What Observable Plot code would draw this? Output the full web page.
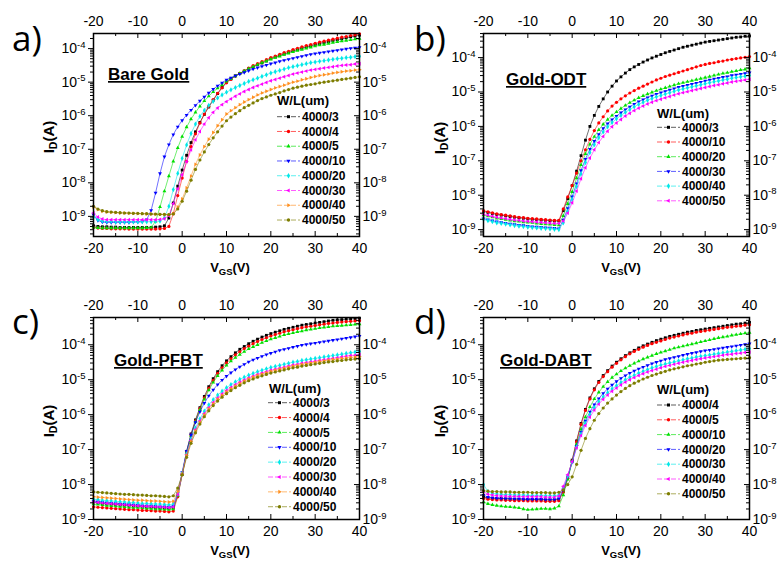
<!DOCTYPE html>
<html><head><meta charset="utf-8">
<script src="https://cdn.jsdelivr.net/npm/d3@7"></script>
<script src="https://cdn.jsdelivr.net/npm/@observablehq/plot@0.6"></script>
<style>
html,body{margin:0;padding:0;background:#fff}
#root{position:relative;width:778px;height:562px;overflow:hidden;background:#fff}
</style></head><body><div id="root"></div>
<script>
// ---------------- DATA (log10 of drain current I_D in A) ----------------
const vgs = [-20,-19,-18,-17,-16,-15,-14,-13,-12,-11,-10,-9,-8,-7,-6,-5,-4,-3,-2,-1,0,1,2,3,4,5,6,7,8,9,10,11,12,13,14,15,16,17,18,19,20,21,22,23,24,25,26,27,28,29,30,31,32,33,34,35,36,37,38,39,40];
const xTickLabels = [-20,-10,0,10,20,30,40];
const yTickExponents = [-9,-8,-7,-6,-5,-4];

// a) Bare Gold
const wlBare = ["4000/3","4000/4","4000/5","4000/10","4000/20","4000/30","4000/40","4000/50"];
const logIdBare = [
[-9.28,-9.30,-9.31,-9.31,-9.32,-9.32,-9.33,-9.33,-9.33,-9.33,-9.33,-9.33,-9.33,-9.33,-9.32,-9.31,-9.28,-9.05,-8.6,-8.1,-7.62,-7.18,-6.8,-6.48,-6.2,-5.96,-5.74,-5.54,-5.34,-5.16,-5.0,-4.9,-4.81,-4.74,-4.67,-4.6,-4.54,-4.48,-4.43,-4.37,-4.3,-4.25,-4.21,-4.16,-4.12,-4.07,-4.03,-3.99,-3.95,-3.92,-3.88,-3.85,-3.82,-3.79,-3.76,-3.73,-3.71,-3.68,-3.65,-3.63,-3.6],
[-9.33,-9.35,-9.36,-9.36,-9.37,-9.37,-9.37,-9.37,-9.38,-9.38,-9.38,-9.38,-9.38,-9.38,-9.38,-9.37,-9.36,-9.3,-8.92,-8.38,-7.86,-7.36,-6.92,-6.54,-6.22,-5.95,-5.72,-5.52,-5.33,-5.17,-5.02,-4.92,-4.82,-4.74,-4.66,-4.58,-4.51,-4.45,-4.39,-4.33,-4.27,-4.22,-4.17,-4.12,-4.08,-4.03,-3.99,-3.95,-3.91,-3.88,-3.84,-3.81,-3.78,-3.75,-3.72,-3.69,-3.66,-3.64,-3.61,-3.59,-3.56],
[-9.33,-9.34,-9.35,-9.35,-9.35,-9.35,-9.35,-9.35,-9.35,-9.35,-9.35,-9.35,-9.34,-9.33,-9.15,-8.72,-8.25,-7.8,-7.36,-6.96,-6.62,-6.34,-6.1,-5.9,-5.72,-5.56,-5.42,-5.29,-5.18,-5.08,-4.98,-4.9,-4.82,-4.74,-4.67,-4.6,-4.54,-4.48,-4.42,-4.37,-4.32,-4.27,-4.23,-4.18,-4.14,-4.1,-4.06,-4.03,-3.99,-3.96,-3.93,-3.9,-3.88,-3.85,-3.82,-3.8,-3.78,-3.76,-3.74,-3.72,-3.7],
[-8.95,-9.12,-9.17,-9.18,-9.18,-9.18,-9.18,-9.18,-9.18,-9.17,-9.17,-9.16,-9.1,-8.82,-8.3,-7.72,-7.22,-6.86,-6.56,-6.33,-6.14,-5.98,-5.83,-5.69,-5.56,-5.44,-5.32,-5.21,-5.11,-5.02,-4.93,-4.87,-4.81,-4.76,-4.71,-4.66,-4.61,-4.57,-4.53,-4.49,-4.45,-4.42,-4.38,-4.35,-4.32,-4.29,-4.26,-4.23,-4.2,-4.17,-4.15,-4.13,-4.11,-4.09,-4.07,-4.05,-4.03,-4.01,-3.99,-3.98,-3.96],
[-9.02,-9.1,-9.14,-9.15,-9.15,-9.16,-9.16,-9.16,-9.16,-9.16,-9.16,-9.16,-9.16,-9.16,-9.15,-9.14,-9.05,-8.7,-8.2,-7.72,-7.27,-6.87,-6.53,-6.25,-6.02,-5.84,-5.69,-5.57,-5.47,-5.38,-5.3,-5.23,-5.16,-5.1,-5.04,-4.98,-4.93,-4.88,-4.83,-4.78,-4.73,-4.69,-4.65,-4.61,-4.57,-4.54,-4.51,-4.48,-4.45,-4.42,-4.4,-4.38,-4.36,-4.34,-4.32,-4.3,-4.29,-4.27,-4.26,-4.24,-4.23],
[-8.9,-9.02,-9.08,-9.1,-9.1,-9.1,-9.1,-9.1,-9.1,-9.1,-9.1,-9.1,-9.1,-9.1,-9.1,-9.09,-9.07,-8.98,-8.62,-8.18,-7.76,-7.37,-7.02,-6.72,-6.47,-6.25,-6.06,-5.9,-5.77,-5.67,-5.58,-5.5,-5.42,-5.35,-5.28,-5.22,-5.16,-5.11,-5.06,-5.01,-4.96,-4.92,-4.88,-4.84,-4.8,-4.76,-4.73,-4.7,-4.67,-4.64,-4.62,-4.6,-4.58,-4.56,-4.54,-4.52,-4.5,-4.49,-4.48,-4.46,-4.45],
[-8.72,-8.8,-8.85,-8.87,-8.88,-8.89,-8.9,-8.9,-8.91,-8.91,-8.92,-8.92,-8.93,-8.93,-8.94,-8.94,-8.95,-8.95,-8.92,-8.72,-8.48,-8.15,-7.8,-7.45,-7.17,-6.92,-6.7,-6.5,-6.3,-6.12,-5.95,-5.85,-5.76,-5.67,-5.59,-5.52,-5.45,-5.38,-5.32,-5.27,-5.22,-5.17,-5.13,-5.09,-5.04,-5.0,-4.97,-4.93,-4.9,-4.86,-4.83,-4.8,-4.78,-4.76,-4.73,-4.71,-4.69,-4.67,-4.66,-4.64,-4.63],
[-8.7,-8.78,-8.83,-8.86,-8.87,-8.88,-8.89,-8.9,-8.9,-8.91,-8.91,-8.92,-8.92,-8.93,-8.93,-8.94,-8.94,-8.95,-8.93,-8.78,-8.55,-8.25,-7.92,-7.6,-7.32,-7.08,-6.86,-6.66,-6.48,-6.31,-6.15,-6.04,-5.94,-5.85,-5.76,-5.69,-5.62,-5.55,-5.49,-5.44,-5.39,-5.35,-5.31,-5.26,-5.22,-5.18,-5.15,-5.12,-5.09,-5.07,-5.05,-5.02,-5.0,-4.98,-4.96,-4.94,-4.92,-4.9,-4.88,-4.86,-4.84]
];

// b) Gold-ODT
const wlOdt = ["4000/3","4000/10","4000/20","4000/30","4000/40","4000/50"];
const logIdOdt = [
[-8.47,-8.5,-8.53,-8.56,-8.58,-8.6,-8.62,-8.64,-8.66,-8.67,-8.69,-8.7,-8.71,-8.72,-8.73,-8.74,-8.75,-8.75,-8.45,-8.1,-7.72,-7.3,-6.85,-6.4,-6.0,-5.68,-5.42,-5.2,-5.0,-4.83,-4.68,-4.56,-4.45,-4.35,-4.27,-4.2,-4.13,-4.07,-4.01,-3.96,-3.91,-3.86,-3.82,-3.78,-3.74,-3.7,-3.67,-3.64,-3.61,-3.58,-3.55,-3.53,-3.51,-3.49,-3.47,-3.45,-3.43,-3.41,-3.4,-3.38,-3.37],
[-8.45,-8.48,-8.51,-8.54,-8.56,-8.58,-8.6,-8.62,-8.64,-8.65,-8.67,-8.68,-8.69,-8.7,-8.71,-8.72,-8.73,-8.73,-8.4,-8.05,-7.72,-7.36,-7.0,-6.68,-6.38,-6.12,-5.9,-5.72,-5.55,-5.41,-5.3,-5.2,-5.11,-5.03,-4.96,-4.89,-4.83,-4.77,-4.71,-4.65,-4.6,-4.55,-4.51,-4.47,-4.43,-4.39,-4.35,-4.31,-4.27,-4.23,-4.2,-4.17,-4.15,-4.12,-4.1,-4.07,-4.05,-4.03,-4.01,-3.99,-3.97],
[-8.58,-8.61,-8.64,-8.67,-8.69,-8.71,-8.73,-8.75,-8.76,-8.78,-8.79,-8.8,-8.82,-8.83,-8.84,-8.85,-8.86,-8.87,-8.6,-8.25,-7.9,-7.5,-7.12,-6.8,-6.52,-6.3,-6.1,-5.94,-5.8,-5.68,-5.58,-5.48,-5.39,-5.31,-5.24,-5.17,-5.11,-5.06,-5.01,-4.96,-4.92,-4.88,-4.84,-4.8,-4.76,-4.73,-4.7,-4.67,-4.64,-4.61,-4.58,-4.55,-4.52,-4.49,-4.46,-4.44,-4.41,-4.39,-4.36,-4.34,-4.31],
[-8.68,-8.71,-8.74,-8.77,-8.79,-8.81,-8.83,-8.85,-8.87,-8.88,-8.9,-8.91,-8.92,-8.93,-8.94,-8.95,-8.96,-8.97,-8.72,-8.38,-8.04,-7.66,-7.28,-6.95,-6.66,-6.43,-6.23,-6.06,-5.92,-5.8,-5.7,-5.6,-5.51,-5.43,-5.35,-5.28,-5.22,-5.16,-5.11,-5.06,-5.02,-4.98,-4.94,-4.9,-4.86,-4.83,-4.8,-4.77,-4.74,-4.71,-4.68,-4.65,-4.62,-4.6,-4.57,-4.55,-4.52,-4.5,-4.48,-4.46,-4.44],
[-8.7,-8.74,-8.77,-8.8,-8.82,-8.84,-8.86,-8.88,-8.9,-8.91,-8.93,-8.94,-8.95,-8.96,-8.97,-8.98,-8.99,-9.0,-8.8,-8.47,-8.12,-7.75,-7.38,-7.05,-6.76,-6.53,-6.33,-6.16,-6.01,-5.89,-5.78,-5.68,-5.59,-5.51,-5.43,-5.36,-5.3,-5.24,-5.19,-5.14,-5.1,-5.06,-5.02,-4.98,-4.94,-4.91,-4.88,-4.85,-4.82,-4.79,-4.76,-4.73,-4.7,-4.68,-4.65,-4.63,-4.6,-4.58,-4.56,-4.54,-4.52],
[-8.55,-8.58,-8.61,-8.64,-8.66,-8.68,-8.7,-8.72,-8.73,-8.75,-8.76,-8.77,-8.78,-8.79,-8.8,-8.81,-8.82,-8.82,-8.75,-8.52,-8.22,-7.88,-7.52,-7.2,-6.92,-6.68,-6.47,-6.29,-6.14,-6.01,-5.9,-5.8,-5.7,-5.62,-5.54,-5.47,-5.41,-5.35,-5.3,-5.25,-5.21,-5.17,-5.13,-5.09,-5.05,-5.02,-4.99,-4.96,-4.93,-4.9,-4.87,-4.84,-4.81,-4.79,-4.76,-4.74,-4.71,-4.69,-4.67,-4.65,-4.63]
];

// c) Gold-PFBT
const wlPfbt = ["4000/3","4000/4","4000/5","4000/10","4000/20","4000/30","4000/40","4000/50"];
const logIdPfbt = [
[-8.5,-8.52,-8.54,-8.55,-8.56,-8.57,-8.58,-8.59,-8.6,-8.61,-8.62,-8.63,-8.64,-8.65,-8.66,-8.67,-8.67,-8.68,-8.66,-8.3,-7.7,-7.05,-6.55,-6.15,-5.8,-5.48,-5.2,-4.97,-4.77,-4.6,-4.46,-4.34,-4.23,-4.13,-4.05,-3.97,-3.9,-3.84,-3.78,-3.73,-3.68,-3.64,-3.6,-3.56,-3.53,-3.5,-3.47,-3.44,-3.42,-3.4,-3.38,-3.36,-3.34,-3.32,-3.3,-3.29,-3.28,-3.27,-3.26,-3.25,-3.24],
[-8.64,-8.65,-8.66,-8.67,-8.68,-8.69,-8.7,-8.71,-8.72,-8.72,-8.73,-8.74,-8.74,-8.75,-8.76,-8.76,-8.77,-8.78,-8.76,-8.35,-7.72,-7.08,-6.58,-6.18,-5.83,-5.52,-5.25,-5.02,-4.82,-4.66,-4.52,-4.4,-4.29,-4.2,-4.11,-4.04,-3.97,-3.91,-3.85,-3.8,-3.75,-3.71,-3.67,-3.63,-3.6,-3.57,-3.54,-3.51,-3.49,-3.47,-3.45,-3.43,-3.41,-3.39,-3.38,-3.36,-3.35,-3.34,-3.33,-3.32,-3.31],
[-8.56,-8.57,-8.58,-8.6,-8.61,-8.62,-8.63,-8.64,-8.65,-8.66,-8.66,-8.67,-8.68,-8.69,-8.7,-8.7,-8.71,-8.72,-8.7,-8.32,-7.72,-7.1,-6.6,-6.2,-5.86,-5.56,-5.3,-5.08,-4.89,-4.73,-4.59,-4.47,-4.37,-4.28,-4.2,-4.12,-4.06,-4.0,-3.94,-3.89,-3.84,-3.8,-3.76,-3.72,-3.69,-3.66,-3.63,-3.61,-3.58,-3.56,-3.54,-3.52,-3.5,-3.49,-3.47,-3.46,-3.45,-3.44,-3.43,-3.42,-3.41],
[-8.47,-8.49,-8.5,-8.52,-8.53,-8.54,-8.55,-8.56,-8.57,-8.58,-8.59,-8.6,-8.61,-8.61,-8.62,-8.63,-8.63,-8.64,-8.62,-8.25,-7.65,-7.05,-6.58,-6.22,-5.92,-5.67,-5.46,-5.29,-5.14,-5.01,-4.9,-4.8,-4.71,-4.63,-4.56,-4.49,-4.43,-4.38,-4.33,-4.28,-4.24,-4.2,-4.16,-4.13,-4.1,-4.07,-4.04,-4.01,-3.99,-3.97,-3.95,-3.93,-3.91,-3.89,-3.87,-3.85,-3.83,-3.81,-3.79,-3.77,-3.75],
[-8.42,-8.43,-8.45,-8.46,-8.47,-8.48,-8.49,-8.5,-8.51,-8.52,-8.53,-8.54,-8.54,-8.55,-8.56,-8.56,-8.57,-8.58,-8.56,-8.25,-7.68,-7.12,-6.7,-6.38,-6.12,-5.9,-5.72,-5.57,-5.44,-5.33,-5.23,-5.14,-5.06,-4.99,-4.93,-4.87,-4.82,-4.77,-4.73,-4.69,-4.65,-4.62,-4.59,-4.56,-4.53,-4.5,-4.48,-4.45,-4.43,-4.41,-4.39,-4.37,-4.35,-4.33,-4.31,-4.29,-4.27,-4.25,-4.23,-4.21,-4.19],
[-8.5,-8.51,-8.53,-8.54,-8.55,-8.56,-8.57,-8.58,-8.59,-8.6,-8.61,-8.62,-8.62,-8.63,-8.64,-8.64,-8.65,-8.66,-8.64,-8.28,-7.7,-7.15,-6.74,-6.43,-6.18,-5.97,-5.8,-5.65,-5.52,-5.41,-5.31,-5.22,-5.14,-5.07,-5.01,-4.95,-4.9,-4.85,-4.81,-4.77,-4.73,-4.7,-4.67,-4.64,-4.61,-4.58,-4.56,-4.53,-4.51,-4.49,-4.47,-4.45,-4.43,-4.41,-4.39,-4.37,-4.35,-4.33,-4.31,-4.3,-4.28],
[-8.35,-8.36,-8.37,-8.38,-8.39,-8.4,-8.41,-8.42,-8.43,-8.44,-8.45,-8.45,-8.46,-8.47,-8.47,-8.48,-8.49,-8.5,-8.48,-8.2,-7.7,-7.17,-6.77,-6.47,-6.22,-6.01,-5.84,-5.69,-5.56,-5.45,-5.35,-5.26,-5.18,-5.11,-5.04,-4.98,-4.93,-4.88,-4.84,-4.8,-4.76,-4.73,-4.7,-4.67,-4.64,-4.61,-4.59,-4.56,-4.54,-4.52,-4.5,-4.48,-4.46,-4.44,-4.42,-4.41,-4.39,-4.38,-4.36,-4.35,-4.34],
[-8.21,-8.22,-8.23,-8.24,-8.25,-8.26,-8.27,-8.28,-8.28,-8.29,-8.3,-8.3,-8.31,-8.32,-8.32,-8.33,-8.34,-8.35,-8.32,-8.1,-7.72,-7.22,-6.82,-6.52,-6.27,-6.06,-5.89,-5.74,-5.61,-5.5,-5.4,-5.31,-5.23,-5.16,-5.09,-5.03,-4.98,-4.93,-4.89,-4.85,-4.81,-4.78,-4.75,-4.72,-4.69,-4.66,-4.64,-4.61,-4.59,-4.57,-4.55,-4.53,-4.51,-4.49,-4.48,-4.46,-4.45,-4.43,-4.42,-4.41,-4.4]
];

// d) Gold-DABT
const wlDabt = ["4000/4","4000/5","4000/10","4000/20","4000/30","4000/40","4000/50"];
const logIdDabt = [
[-8.36,-8.38,-8.39,-8.4,-8.4,-8.41,-8.41,-8.42,-8.42,-8.42,-8.43,-8.43,-8.43,-8.43,-8.44,-8.44,-8.44,-8.42,-8.2,-7.8,-7.3,-6.75,-6.25,-5.85,-5.52,-5.26,-5.05,-4.88,-4.74,-4.61,-4.5,-4.4,-4.31,-4.23,-4.16,-4.09,-4.03,-3.98,-3.93,-3.88,-3.84,-3.8,-3.76,-3.73,-3.7,-3.67,-3.64,-3.62,-3.59,-3.57,-3.55,-3.53,-3.51,-3.49,-3.47,-3.45,-3.43,-3.41,-3.4,-3.38,-3.36],
[-8.4,-8.42,-8.43,-8.44,-8.44,-8.45,-8.45,-8.46,-8.46,-8.46,-8.47,-8.47,-8.47,-8.47,-8.48,-8.48,-8.48,-8.46,-8.22,-7.82,-7.32,-6.78,-6.28,-5.88,-5.55,-5.29,-5.08,-4.91,-4.77,-4.64,-4.53,-4.43,-4.34,-4.26,-4.19,-4.13,-4.07,-4.02,-3.97,-3.93,-3.89,-3.85,-3.81,-3.78,-3.75,-3.72,-3.69,-3.67,-3.64,-3.62,-3.6,-3.58,-3.56,-3.54,-3.52,-3.5,-3.49,-3.47,-3.46,-3.44,-3.43],
[-8.5,-8.55,-8.58,-8.6,-8.62,-8.63,-8.64,-8.65,-8.67,-8.7,-8.72,-8.71,-8.7,-8.69,-8.69,-8.7,-8.68,-8.62,-8.3,-7.85,-7.35,-6.85,-6.42,-6.07,-5.78,-5.55,-5.36,-5.2,-5.06,-4.94,-4.84,-4.75,-4.67,-4.6,-4.53,-4.47,-4.41,-4.36,-4.31,-4.26,-4.22,-4.18,-4.14,-4.1,-4.07,-4.04,-4.01,-3.98,-3.95,-3.92,-3.89,-3.86,-3.83,-3.8,-3.78,-3.76,-3.73,-3.71,-3.69,-3.67,-3.65],
[-8.3,-8.36,-8.38,-8.39,-8.4,-8.4,-8.41,-8.41,-8.41,-8.42,-8.42,-8.42,-8.42,-8.42,-8.43,-8.43,-8.43,-8.4,-8.15,-7.78,-7.35,-6.9,-6.5,-6.18,-5.92,-5.71,-5.54,-5.39,-5.26,-5.15,-5.05,-4.96,-4.88,-4.81,-4.75,-4.69,-4.64,-4.59,-4.54,-4.5,-4.46,-4.42,-4.39,-4.36,-4.33,-4.3,-4.27,-4.24,-4.22,-4.19,-4.17,-4.15,-4.13,-4.11,-4.09,-4.07,-4.05,-4.03,-4.01,-3.99,-3.97],
[-8.0,-8.2,-8.25,-8.27,-8.28,-8.29,-8.29,-8.3,-8.3,-8.3,-8.31,-8.31,-8.31,-8.31,-8.32,-8.32,-8.32,-8.3,-8.1,-7.76,-7.36,-6.93,-6.55,-6.25,-6.0,-5.8,-5.63,-5.49,-5.37,-5.26,-5.17,-5.08,-5.0,-4.93,-4.87,-4.81,-4.76,-4.71,-4.66,-4.62,-4.58,-4.55,-4.52,-4.49,-4.46,-4.43,-4.4,-4.38,-4.35,-4.33,-4.31,-4.29,-4.27,-4.25,-4.23,-4.21,-4.19,-4.17,-4.15,-4.13,-4.11],
[-8.2,-8.28,-8.3,-8.32,-8.33,-8.33,-8.34,-8.34,-8.34,-8.35,-8.35,-8.35,-8.35,-8.35,-8.36,-8.36,-8.36,-8.33,-8.05,-7.72,-7.35,-6.95,-6.6,-6.31,-6.07,-5.87,-5.7,-5.56,-5.44,-5.33,-5.24,-5.15,-5.07,-5.0,-4.94,-4.88,-4.83,-4.78,-4.74,-4.7,-4.66,-4.62,-4.59,-4.56,-4.53,-4.5,-4.47,-4.45,-4.42,-4.4,-4.38,-4.36,-4.34,-4.32,-4.3,-4.28,-4.27,-4.25,-4.24,-4.22,-4.21],
[-8.18,-8.19,-8.2,-8.2,-8.21,-8.21,-8.21,-8.22,-8.22,-8.22,-8.22,-8.23,-8.23,-8.23,-8.23,-8.24,-8.24,-8.22,-8.15,-8.0,-7.78,-7.42,-7.02,-6.68,-6.4,-6.16,-5.97,-5.81,-5.67,-5.55,-5.44,-5.34,-5.25,-5.17,-5.1,-5.04,-4.98,-4.93,-4.88,-4.84,-4.8,-4.76,-4.72,-4.69,-4.66,-4.63,-4.6,-4.58,-4.55,-4.53,-4.5,-4.48,-4.46,-4.44,-4.43,-4.42,-4.41,-4.4,-4.39,-4.38,-4.37]
];

// ---------------- STYLE ----------------
const FONT = '"Liberation Sans", Arial, Helvetica, sans-serif';
const C = {black:"#000000", red:"#ff0000", green:"#00e000", blue:"#0000ff", cyan:"#00e8e8", magenta:"#ff00ff", orange:"#ff9020", olive:"#7d7d00"};
function tri(a){return {draw(ctx,size){const r=Math.sqrt(size/Math.PI)*1.4;for(let k=0;k<3;k++){const t=a+k*2*Math.PI/3,x=r*Math.sin(t),y=-r*Math.cos(t);if(k)ctx.lineTo(x,y);else ctx.moveTo(x,y);}ctx.closePath();}};}
const S = {sq:d3.symbolSquare, ci:d3.symbolCircle, up:tri(0), dn:tri(Math.PI), di:d3.symbolDiamond, lf:tri(-Math.PI/2), rt:tri(Math.PI/2), hx:d3.symbolCircle};
const col8 = [C.black,C.red,C.green,C.blue,C.cyan,C.magenta,C.orange,C.olive];
const sym8 = [S.sq,S.ci,S.up,S.dn,S.di,S.lf,S.rt,S.hx];
const col7 = [C.black,C.red,C.green,C.blue,C.cyan,C.magenta,C.olive];
const sym7 = [S.sq,S.ci,S.up,S.dn,S.di,S.lf,S.hx];

const root = document.getElementById("root");

function superscripts(svg){
  svg.querySelectorAll("text").forEach(t=>{
    const m = /^10\^(-?\d+)$/.exec(t.textContent);
    if(!m) return;
    t.textContent = "10";
    const ts = document.createElementNS("http://www.w3.org/2000/svg","tspan");
    ts.setAttribute("dy","-0.55em"); ts.setAttribute("font-size","9.5");
    ts.textContent = m[1];
    t.appendChild(ts);
  });
}

function panel(cfg){
  const {left, top, w, h, mL, mR, mT, mB, yLog, logs, colors, symbols} = cfg;
  logs.forEach((s,i)=>{ if(s.length!==vgs.length) throw new Error("length mismatch "+cfg.name+" "+i+" "+s.length); });
  const yDom = [10**yLog[0], 10**yLog[1]];
  const fw = w-mL-mR, fh = h-mT-mB;
  const decades=[], minors=[];
  for(let n=-10;n<=-3;n++){
    const d=10**n; if(d>=yDom[0]&&d<=yDom[1]) decades.push(d);
    for(let k=2;k<10;k++){const m=k*10**n; if(m>=yDom[0]&&m<=yDom[1]) minors.push(m);}
  }
  const yLabels = yTickExponents.map(e=>10**e).filter(d=>d>=yDom[0]&&d<=yDom[1]);
  const xMinor = [-15,-5,5,15,25,35];
  const tk = {stroke:"#000", strokeWidth:1};
  const marks = [];
  logs.forEach((s,i)=>{
    const rows = vgs.map((v,j)=>({v, id:10**s[j]}));
    marks.push(Plot.line(rows,{x:"v",y:"id",stroke:colors[i],strokeWidth:0.8,strokeOpacity:0.7}));
    marks.push(Plot.dot(rows,{x:"v",y:"id",r:1.6,symbol:symbols[i],fill:colors[i],stroke:"none"}));
  });
  marks.push(
    Plot.ruleY(decades,{y:d=>d,insetLeft:-5,insetRight:fw,...tk}),
    Plot.ruleY(minors,{y:d=>d,insetLeft:-3,insetRight:fw,...tk}),
    Plot.ruleY(decades,{y:d=>d,insetLeft:fw-5,...tk}),
    Plot.ruleY(minors,{y:d=>d,insetLeft:fw-3,...tk}),
    Plot.ruleX(xTickLabels,{x:d=>d,insetTop:fh-5,...tk}),
    Plot.ruleX(xMinor,{x:d=>d,insetTop:fh-3,...tk}),
    Plot.ruleX(xTickLabels,{x:d=>d,insetBottom:fh-5,...tk}),
    Plot.ruleX(xMinor,{x:d=>d,insetBottom:fh-3,...tk}),
    Plot.frame({stroke:"#000",strokeWidth:1.5}),
    Plot.axisX({anchor:"bottom",ticks:xTickLabels,tickFormat:d=>String(d),tickSize:0,tickPadding:7,fontSize:14,label:null}),
    Plot.axisX({anchor:"top",ticks:xTickLabels,tickFormat:d=>String(d),tickSize:0,tickPadding:8,fontSize:14,label:null}),
    Plot.axisY({anchor:"left",ticks:yLabels,tickFormat:d=>"10^"+Math.round(Math.log10(d)),tickSize:0,tickPadding:8,fontSize:14,label:null}),
    Plot.axisY({anchor:"right",ticks:yLabels,tickFormat:d=>"10^"+Math.round(Math.log10(d)),tickSize:0,tickPadding:3,fontSize:14,label:null})
  );
  const svg = Plot.plot({
    width:w, height:h, marginLeft:mL, marginRight:mR, marginTop:mT, marginBottom:mB,
    x:{domain:[-20,40]}, y:{type:"log", domain:yDom},
    style:{fontFamily:FONT, fontSize:"14px", color:"#000", background:"transparent", overflow:"visible"},
    marks
  });
  superscripts(svg);
  svg.style.position="absolute"; svg.style.left=left+"px"; svg.style.top=top+"px";
  root.appendChild(svg);
}

panel({name:"a",left:0,top:0,w:390,h:280,mL:93,mR:31,mT:33,mB:44,yLog:[-9.6,-3.55],logs:logIdBare,colors:col8,symbols:sym8});
panel({name:"b",left:390,top:0,w:388,h:280,mL:93,mR:29,mT:33,mB:44,yLog:[-9.2,-3.3],logs:logIdOdt,colors:col8.slice(0,6),symbols:sym8.slice(0,6)});
panel({name:"c",left:0,top:284,w:390,h:280,mL:93,mR:31,mT:33,mB:45,yLog:[-9,-3.22],logs:logIdPfbt,colors:col8,symbols:sym8});
panel({name:"d",left:390,top:284,w:388,h:280,mL:93,mR:29,mT:33,mB:45,yLog:[-9,-3.22],logs:logIdDabt,colors:col7,symbols:sym7});

// ---------------- OVERLAY TEXT (panel letters, titles, axis titles, legends) ----------------
const ov = d3.select(root).append("svg").attr("width",778).attr("height",562)
  .style("position","absolute").style("left","0px").style("top","0px").style("font-family",FONT);

[["a)",12,51],["b)",414,51],["c)",12,334],["d)",414,334]].forEach(([t,x,y])=>
  ov.append("text").attr("x",x).attr("y",y).attr("font-size",35).attr("font-family",'"Open Sans", "DejaVu Sans", sans-serif').text(t));

[["Bare Gold",108,80],["Gold-ODT",506,85],["Gold-PFBT",114,366],["Gold-DABT",500,366]].forEach(([t,x,y])=>
  ov.append("text").attr("x",x).attr("y",y).attr("font-size",17).attr("font-weight","bold").attr("text-decoration","underline").text(t));

function yTitle(x,y){
  const t = ov.append("text").attr("transform",`translate(${x},${y}) rotate(-90)`).attr("text-anchor","middle").attr("font-size",15).attr("font-weight","bold");
  t.append("tspan").text("I");
  t.append("tspan").attr("dy",3).attr("font-size",10.5).text("D");
  t.append("tspan").attr("dy",-3).text("(A)");
}
function xTitle(x,y){
  const t = ov.append("text").attr("x",x).attr("y",y).attr("text-anchor","middle").attr("font-size",13).attr("font-weight","bold");
  t.append("tspan").text("V");
  t.append("tspan").attr("dy",3).attr("font-size",9.5).text("GS");
  t.append("tspan").attr("dy",-3).text("(V)");
}
yTitle(54,137); yTitle(445,138); yTitle(54,421); yTitle(445,421);
xTitle(230,272); xTitle(621,272); xTitle(230,555); xTitle(621,555);

function legend(labels, colors, symbols, hx, hy, lx, ly, step, tx){
  ov.append("text").attr("x",hx).attr("y",hy+4.5).attr("font-size",13).attr("font-weight","bold").text("W/L(um)");
  labels.forEach((lab,i)=>{
    const y = ly + i*step;
    ov.append("line").attr("x1",lx).attr("x2",lx+23).attr("y1",y).attr("y2",y).attr("stroke",colors[i]).attr("stroke-width",0.8).attr("stroke-dasharray","5,2").attr("stroke-opacity",0.8);
    ov.append("path").attr("transform",`translate(${lx+11.5},${y})`).attr("d",d3.symbol(symbols[i],9)()).attr("fill",colors[i]);
    ov.append("text").attr("x",tx).attr("y",y+4.2).attr("font-size",12).attr("font-weight","bold").text(lab);
  });
}
legend(wlBare, col8, sym8, 277, 100, 277, 116.7, 14.76, 302);
legend(wlOdt, col8, sym8, 657, 113, 657, 127.3, 14.7, 682);
legend(wlPfbt, col8, sym8, 269, 388, 268, 402.7, 14.86, 293);
legend(wlDabt, col7, sym7, 657, 389, 657, 405, 14.8, 682);
</script></body></html>
